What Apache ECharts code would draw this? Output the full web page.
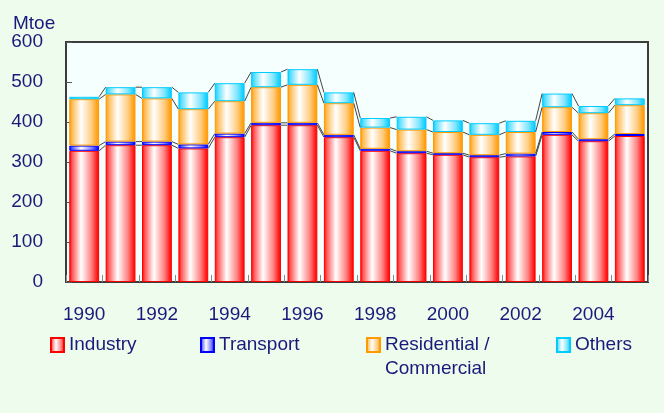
<!DOCTYPE html>
<html>
<head>
<meta charset="utf-8">
<script src="https://cdn.jsdelivr.net/npm/echarts@6/dist/echarts.min.js"></script>
<style>
html, body { margin: 0; padding: 0; background: #eefcee; }
#chart { width: 664px; height: 413px; }
</style>
</head>
<body>
<div id="chart"></div>
<script>
// data (Mtoe)
const years = ['1990','1991','1992','1993','1994','1995','1996','1997','1998','1999','2000','2001','2002','2003','2004','2005'];
const industry    = [328, 342, 342, 334, 362, 392, 392, 362, 328, 322, 318, 312, 314, 368, 352, 365];
const transport   = [13, 9, 9, 10, 9, 6, 6, 6, 5, 5, 4, 5, 7, 7, 5, 5];
const residential = [116, 118, 108, 88, 81, 89, 95, 79, 53, 54, 53, 51, 54, 62, 65, 72];
const others      = [6, 18, 28, 42, 45, 38, 39, 27, 24, 32, 29, 29, 28, 34, 18, 17];
const yMin = 0, yMax = 600, yStep = 100;

const font = '"Liberation Sans", Arial, sans-serif';
const navy = '#1a1a7a';

// mix a hex colour with white
function tint(hex, t) {
    const n = parseInt(hex.slice(1), 16);
    const ch = [(n >> 16) & 255, (n >> 8) & 255, n & 255].map(c => Math.round(c + (255 - c) * t));
    return 'rgb(' + ch.join(',') + ')';
}
// cylinder-like horizontal gradient
function barFill(hex) {
    return new echarts.graphic.LinearGradient(0, 0, 1, 0, [
        {offset: 0, color: hex},
        {offset: 0.1, color: tint(hex, 0.35)},
        {offset: 0.4, color: '#ffffff'},
        {offset: 0.75, color: tint(hex, 0.5)},
        {offset: 0.93, color: tint(hex, 0.1)},
        {offset: 1, color: hex}
    ]);
}

// cumulative tops for the connector lines
const levels = [];
let run = years.map(() => 0);
[industry, transport, residential, others].forEach(arr => {
    run = run.map((v, i) => v + arr[i]);
    levels.push(run.slice());
});
const links = [];
for (let i = 0; i < years.length - 1; i++) {
    links.push([i].concat(levels.map(l => l[i]), levels.map(l => l[i + 1])));
}

const gapRatio = 0.18;

function barSeries(name, data, color) {
    return {
        name: name,
        type: 'bar',
        stack: 'total',
        data: data,
        barCategoryGap: (gapRatio * 100) + '%',
        itemStyle: { color: barFill(color), borderColor: color, borderWidth: 1 }
    };
}

function legendAt(name, left, top, extra) {
    return Object.assign({
        data: [name],
        left: left,
        top: top,
        padding: 0,
        icon: 'rect',
        itemWidth: 13,
        itemHeight: 14,
        selectedMode: false,
        textStyle: { color: navy, fontSize: 19, fontFamily: font, lineHeight: 24 }
    }, extra || {});
}

let chart = echarts.init(document.getElementById('chart'));
chart.setOption({
    backgroundColor: '#eefcee',
    animation: false,
    title: {
        text: 'Mtoe',
        left: 13,
        top: 14,
        padding: 0,
        textStyle: { color: navy, fontSize: 19, fontWeight: 'normal', fontFamily: font }
    },
    legend: [
        legendAt('Industry', 50, 333),
        legendAt('Transport', 200, 333),
        // blank first line keeps "Residential /" level with the icon
        legendAt('Residential', 366, 309, { formatter: ' \nResidential /\nCommercial' }),
        legendAt('Others', 556, 333)
    ],
    grid: {
        left: 66, right: 16, top: 42, bottom: 131,
        show: true,
        backgroundColor: '#f5fffe',
        borderColor: '#3c3c3c',
        borderWidth: 2
    },
    xAxis: {
        type: 'category',
        data: years,
        axisLine: { show: false },
        axisTick: { show: true, inside: true, length: 7, interval: 0, lineStyle: { color: '#888' } },
        axisLabel: { interval: 1, margin: 23, color: navy, fontSize: 19, fontFamily: font }
    },
    yAxis: {
        type: 'value',
        min: yMin, max: yMax, interval: yStep,
        axisLine: { show: false },
        splitLine: { show: false },
        axisTick: { show: true, inside: true, length: 6, lineStyle: { color: '#555' } },
        axisLabel: { margin: 23, color: navy, fontSize: 19, fontFamily: font }
    },
    series: [
        barSeries('Industry', industry, '#ff0000'),
        barSeries('Transport', transport, '#0000ff'),
        barSeries('Residential', residential, '#ff9900'),
        barSeries('Others', others, '#00ccff'),
        {
            type: 'custom',
            data: links,
            silent: true,
            z: 3,
            renderItem: function (params, api) {
                const i = api.value(0);
                const half = api.size([1, 0])[0] * (1 - gapRatio) / 2;
                const children = [];
                for (let k = 0; k < 4; k++) {
                    const a = api.coord([i, api.value(1 + k)]);
                    const b = api.coord([i + 1, api.value(5 + k)]);
                    children.push({
                        type: 'line',
                        shape: { x1: a[0] + half, y1: a[1], x2: b[0] - half, y2: b[1] },
                        style: { stroke: '#444', lineWidth: 1 }
                    });
                }
                return { type: 'group', children: children };
            }
        }
    ]
});
</script>
</body>
</html>
